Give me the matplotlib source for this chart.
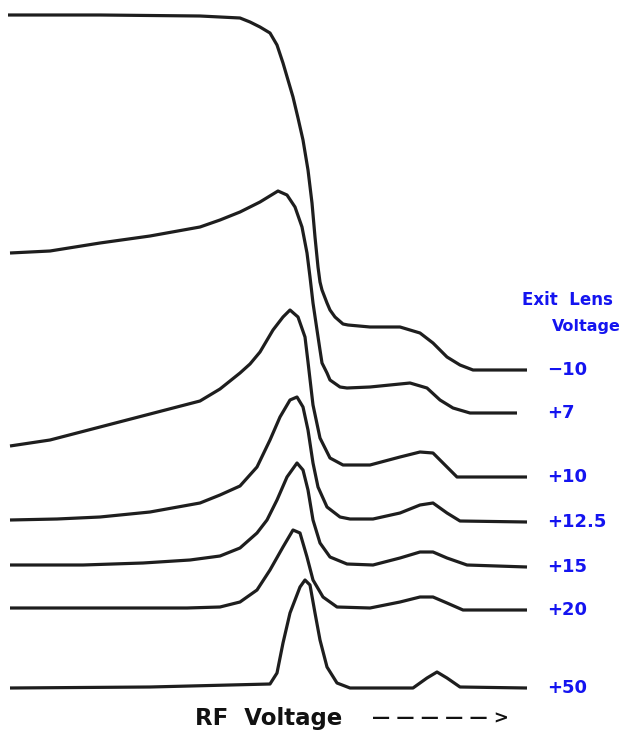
"""Ion transmission vs RF voltage for several exit lens voltages (traced scan)."""

import matplotlib.pyplot as plt

# Traced curves: RF voltage (arb. units) vs trace depth from the top of the
# figure (arb. units, axis inverted so larger signal sits higher)
rf_m10 = [8, 100, 200, 240, 250, 260, 270, 277, 283, 288, 293, 298, 303, 308, 312,
          315, 318, 320, 322, 327, 330, 335, 343, 348, 370, 400, 420, 433, 447, 460,
          473, 527]
dep_m10 = [15, 15, 16, 18, 22, 27, 33, 45, 63, 80, 97, 118, 140, 170, 203,
           237, 267, 282, 290, 303, 310, 317, 324, 325, 327, 327, 333, 343, 357, 365,
           370, 370]

rf_p7 = [10, 50, 100, 150, 200, 220, 240, 260, 278, 287, 295, 302, 307, 310, 313,
         317, 320, 322, 327, 330, 340, 347, 370, 410, 427, 440, 453, 470, 517]
dep_p7 = [253, 251, 243, 236, 227, 220, 212, 202, 191, 195, 207, 227, 253, 277, 303,
          330, 350, 363, 373, 380, 387, 388, 387, 383, 388, 400, 408, 413, 413]

rf_p10 = [10, 50, 100, 150, 200, 220, 240, 250, 260, 273, 283, 290, 298, 305, 308,
          313, 320, 330, 343, 370, 400, 420, 433, 443, 457, 527]
dep_p10 = [446, 440, 427, 414, 401, 389, 373, 364, 352, 330, 317, 310, 317, 337, 362,
           405, 438, 458, 465, 465, 457, 452, 453, 463, 477, 477]

rf_p12 = [10, 57, 100, 150, 200, 220, 240, 257, 270, 280, 290, 297, 303, 308, 313,
          318, 327, 340, 350, 373, 400, 420, 433, 447, 460, 527]
dep_p12 = [520, 519, 517, 512, 503, 495, 486, 467, 440, 417, 400, 397, 407, 430, 463,
           487, 507, 517, 519, 519, 513, 505, 503, 513, 521, 522]

rf_p15 = [10, 83, 143, 190, 220, 240, 257, 267, 277, 287, 297, 303, 308, 313, 320,
          330, 347, 373, 400, 420, 433, 447, 467, 527]
dep_p15 = [565, 565, 563, 560, 556, 548, 533, 520, 500, 477, 463, 470, 490, 520, 543,
           557, 564, 565, 558, 552, 552, 558, 565, 567]

rf_p20 = [10, 187, 220, 240, 257, 270, 283, 293, 300, 307, 313, 323, 337, 370, 400,
          420, 433, 447, 463, 527]
dep_p20 = [608, 608, 607, 602, 590, 570, 547, 530, 533, 557, 580, 597, 607, 608, 602,
           597, 597, 603, 610, 610]

rf_p50 = [10, 150, 270, 277, 283, 290, 300, 305, 310, 315, 320, 327, 337, 350, 413,
          427, 437, 447, 460, 527]
dep_p50 = [688, 687, 684, 673, 643, 613, 587, 580, 585, 613, 640, 667, 683, 688, 688,
           678, 672, 678, 687, 688]

curves = [(rf_m10, dep_m10), (rf_p7, dep_p7), (rf_p10, dep_p10), (rf_p12, dep_p12),
          (rf_p15, dep_p15), (rf_p20, dep_p20), (rf_p50, dep_p50)]
lens_labels = ["\u221210", "+7", "+10", "+12.5", "+15", "+20", "+50"]

BLUE = "#1414f0"

fig = plt.figure(figsize=(6.23, 7.44), dpi=100)
ax = fig.add_axes([0, 0, 1, 1])
ax.set_xlim(0, 623)
ax.set_ylim(744, 0)
ax.axis("off")

for (rf, dep), label in zip(curves, lens_labels):
    ax.plot(rf, dep, color="#1e1e1e", linewidth=2.3, solid_capstyle="butt",
            solid_joinstyle="round")
    ax.text(547, dep[-1], label, color=BLUE, fontsize=13, fontweight="bold",
            ha="left", va="center")

ax.text(567, 300, "Exit  Lens", color=BLUE, fontsize=12, fontweight="bold",
        ha="center", va="center")
ax.text(621, 326, "Voltage", color=BLUE, fontsize=11.5, fontweight="bold",
        ha="right", va="center")

ax.text(195, 718, "RF  Voltage", color="#111111", fontsize=16.5,
        fontweight="bold", ha="left", va="center")
ax.text(372, 718, "\u2014 \u2014 \u2014 \u2014 \u2014 >", color="#111111",
        fontsize=13, fontweight="bold", ha="left", va="center")

fig.savefig("out.png", dpi=100)
